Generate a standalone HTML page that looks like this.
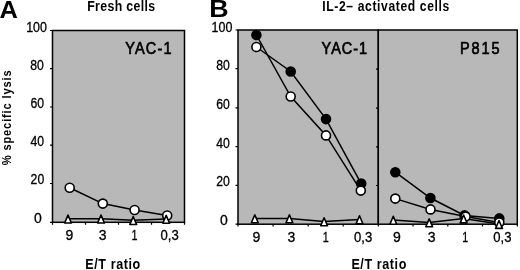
<!DOCTYPE html>
<html><head><meta charset="utf-8"><style>
html,body{margin:0;padding:0;background:#fff;width:520px;height:270px;overflow:hidden}
svg{display:block;will-change:transform}
text{font-family:"Liberation Sans",sans-serif;fill:#000}
.t{font-weight:bold}
.n{font-size:14px;stroke:#000;stroke-width:0.3px}
.c{stroke:#000;stroke-width:0.7px}
</style></head><body>
<svg width="520" height="270" viewBox="0 0 520 270">
<text class="t" x="-0.4" y="18" font-size="23.5" textLength="18.4" lengthAdjust="spacingAndGlyphs">A</text>
<text class="t" x="209.3" y="17.2" font-size="23" textLength="19.4" lengthAdjust="spacingAndGlyphs">B</text>
<text class="t" transform="translate(87.2,11) scale(0.88,1)" x="0" y="0" font-size="14" textLength="77.27" lengthAdjust="spacing">Fresh cells</text>
<text class="t" transform="translate(322.3,11.4) scale(0.88,1)" x="0" y="0" font-size="13.8" textLength="144.32" lengthAdjust="spacing">IL-2– activated cells</text>
<text class="t" transform="translate(11.3,165.3) rotate(-90) scale(0.88,1)" x="0" y="0" font-size="12.7" textLength="107.95" lengthAdjust="spacing">% specific lysis</text>
<text class="t" transform="translate(85.3,268.5) scale(0.88,1)" x="0" y="0" font-size="14.3" textLength="62.50" lengthAdjust="spacing">E/T ratio</text>
<text class="t" transform="translate(351.4,268.5) scale(0.88,1)" x="0" y="0" font-size="14.3" textLength="62.50" lengthAdjust="spacing">E/T ratio</text>
<rect x="52.5" y="30.5" width="132" height="191.8" fill="#b8b8b8" stroke="#000" stroke-width="1.5"/>
<g stroke="#000" stroke-width="1.2"><path d="M50 30.5H52.5M50 68.7H52.5M50 107H52.5M50 145.2H52.5M50 183.5H52.5M50 222.3H52.5"/><path d="M52.5 222.3V224.8M85.5 222.3V224.8M118.5 222.3V224.8M151.5 222.3V224.8M184.5 222.3V224.8"/></g>
<g class="n" text-anchor="middle">
<text x="36.6" y="31.5" textLength="20.8" lengthAdjust="spacingAndGlyphs">100</text><text x="37" y="69.5" textLength="13.6" lengthAdjust="spacingAndGlyphs">80</text><text x="37.2" y="107.6" textLength="13.6" lengthAdjust="spacingAndGlyphs">60</text>
<text x="37.2" y="146" textLength="13.6" lengthAdjust="spacingAndGlyphs">40</text><text x="37.4" y="184.2" textLength="13.6" lengthAdjust="spacingAndGlyphs">20</text><text x="38" y="223">0</text>
<text x="69.4" y="239.6">9</text><text x="102.6" y="239.6">3</text><text x="134.4" y="239.6" textLength="6" lengthAdjust="spacingAndGlyphs">1</text><text x="169.6" y="239.6" textLength="18.2" lengthAdjust="spacingAndGlyphs">0,3</text>
</g>
<text class="c" transform="translate(125.2,54.3) scale(0.84,1)" x="0" y="0" font-size="17.3" textLength="55.12" lengthAdjust="spacing">YAC-1</text>
<g fill="none" stroke="#000" stroke-width="1.5"><polyline points="69.7,187.7 102.8,203.6 134.6,210 167.2,215.5"/><polyline points="68.0,218.7 101,218.7 133.2,220.2 166.2,219.0"/></g>
<g stroke="#000" stroke-width="1.6" stroke-linejoin="round"><circle cx="69.7" cy="187.7" r="4.5" fill="#fff"/><circle cx="102.8" cy="203.6" r="4.5" fill="#fff"/><circle cx="134.6" cy="210" r="4.5" fill="#fff"/><circle cx="167.2" cy="215.5" r="4.5" fill="#fff"/><path d="M68.00 215.10L71.40 223.00H64.60Z" fill="#fff"/><path d="M101.00 215.10L104.40 223.00H97.60Z" fill="#fff"/><path d="M133.20 216.60L136.60 224.50H129.80Z" fill="#fff"/><path d="M166.20 215.40L169.60 223.30H162.80Z" fill="#fff"/></g>
<rect x="238" y="30" width="140.3" height="194.2" fill="#b8b8b8" stroke="#000" stroke-width="1.5"/>
<rect x="378.3" y="30" width="139" height="194.2" fill="#b8b8b8" stroke="#000" stroke-width="1.5"/>
<g stroke="#000" stroke-width="1.2"><path d="M235.5 30H238M235.5 68.7H238M235.5 107.8H238M235.5 146.6H238M235.5 185.3H238M235.5 224.2H238"/><path d="M376 69.2H378.3M376 108.1H378.3M376 146.9H378.3M376 185.5H378.3"/><path d="M238 224.2V226.6M273.1 224.2V226.6M308.2 224.2V226.6M343.2 224.2V226.6M378.3 224.2V226.6M413 224.2V226.6M447.8 224.2V226.6M482.5 224.2V226.6M517.3 224.2V226.6"/></g>
<g class="n" text-anchor="middle">
<text x="222" y="31.8" textLength="20.8" lengthAdjust="spacingAndGlyphs">100</text><text x="223" y="70" textLength="13.6" lengthAdjust="spacingAndGlyphs">80</text><text x="223" y="109" textLength="13.6" lengthAdjust="spacingAndGlyphs">60</text>
<text x="223" y="147.6" textLength="13.6" lengthAdjust="spacingAndGlyphs">40</text><text x="223" y="186" textLength="13.6" lengthAdjust="spacingAndGlyphs">20</text><text x="224" y="224.9">0</text>
<text x="256.4" y="241.6">9</text><text x="291.3" y="241.6">3</text><text x="325.7" y="241.6" textLength="6" lengthAdjust="spacingAndGlyphs">1</text><text x="363.2" y="241.6" textLength="18.2" lengthAdjust="spacingAndGlyphs">0,3</text>
<text x="397" y="241.6">9</text><text x="431.7" y="241.6">3</text><text x="465.2" y="241.6" textLength="6" lengthAdjust="spacingAndGlyphs">1</text><text x="502.4" y="241.6" textLength="18.2" lengthAdjust="spacingAndGlyphs">0,3</text>
</g>
<text class="c" transform="translate(321.6,54.3) scale(0.84,1)" x="0" y="0" font-size="17.3" textLength="54.29" lengthAdjust="spacing">YAC-1</text>
<text class="c" transform="translate(459.9,54.3) scale(0.84,1)" x="0" y="0" font-size="17.3" textLength="47.14" lengthAdjust="spacing">P815</text>
<g fill="none" stroke="#000" stroke-width="1.5"><polyline points="256.4,35 290.7,96.5 326,135.4 360.8,190.6"/><polyline points="256.4,47 290.7,71.5 326,119.1 361.2,183.6"/><polyline points="254.8,218.5 289.4,218.5 324.1,221.4 359.5,219.4"/><polyline points="395.3,172.2 430.4,198 464.5,215.4 499.3,218.4"/><polyline points="395.3,198.6 430.5,209.4 465.6,216.6 499.3,222.5"/><polyline points="393.3,219.9 429.2,222.5 463.6,218.6 499,224.1"/></g>
<g stroke="#000" stroke-width="1.6" stroke-linejoin="round"><circle cx="256.4" cy="35" r="4.5" fill="#000"/><circle cx="290.7" cy="71.5" r="4.5" fill="#000"/><circle cx="326" cy="119.1" r="4.5" fill="#000"/><circle cx="361.2" cy="183.6" r="4.5" fill="#000"/><circle cx="395.3" cy="172.2" r="4.5" fill="#000"/><circle cx="430.4" cy="198" r="4.5" fill="#000"/><circle cx="464.5" cy="215.4" r="4.5" fill="#000"/><circle cx="499.3" cy="218.4" r="4.5" fill="#000"/><circle cx="256.4" cy="47" r="4.5" fill="#fff"/><circle cx="290.7" cy="96.5" r="4.5" fill="#fff"/><circle cx="326" cy="135.4" r="4.5" fill="#fff"/><circle cx="360.8" cy="190.6" r="4.5" fill="#fff"/><circle cx="395.3" cy="198.6" r="4.5" fill="#fff"/><circle cx="430.5" cy="209.4" r="4.5" fill="#fff"/><circle cx="465.6" cy="216.6" r="4.5" fill="#fff"/><circle cx="499.3" cy="222.5" r="4.5" fill="#fff"/><path d="M254.80 214.90L258.20 222.80H251.40Z" fill="#fff"/><path d="M289.40 214.90L292.80 222.80H286.00Z" fill="#fff"/><path d="M324.10 217.80L327.50 225.70H320.70Z" fill="#fff"/><path d="M359.50 215.80L362.90 223.70H356.10Z" fill="#fff"/><path d="M393.30 216.30L396.70 224.20H389.90Z" fill="#fff"/><path d="M429.20 218.90L432.60 226.80H425.80Z" fill="#fff"/><path d="M463.60 215.00L467.00 222.90H460.20Z" fill="#fff"/><path d="M499.00 220.50L502.40 228.40H495.60Z" fill="#fff"/></g>
</svg>
</body></html>
